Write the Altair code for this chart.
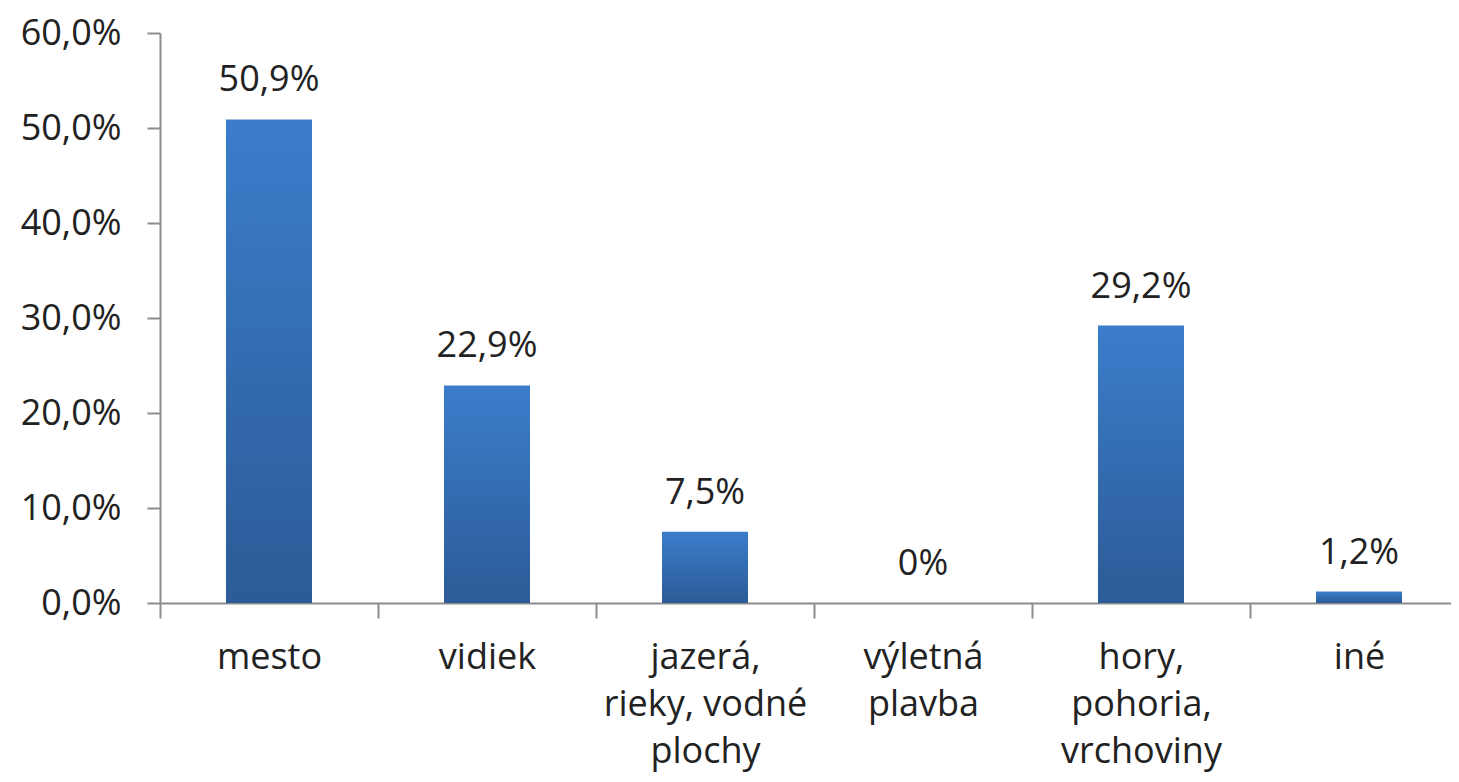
import altair as alt
import pandas as pd

categories = ["mesto", "vidiek", "jazerá,|rieky, vodné|plochy", "výletná|plavba", "hory,|pohoria,|vrchoviny", "iné"]
values = [50.9, 22.9, 7.5, 0.0, 29.2, 1.2]

df = pd.DataFrame({"cat": categories, "v": values})

FONT = "Open Sans"
FS = 36

x_enc = alt.X(
    "cat:N",
    sort=categories,
    scale=alt.Scale(paddingInner=0, paddingOuter=0, range=[0, 1308]),
    axis=alt.Axis(
        title=None,
        labelAngle=0,
        labelExpr="split(datum.label, '|')",
        labelFont=FONT,
        labelFontSize=FS,
        labelColor="#222222",
        labelLineHeight=47,
        labelPadding=22,
        labelBaseline="top",
        labelLimit=0,
        tickBand="extent",
        tickSize=15,
        tickColor="#8c8c8c",
        tickWidth=2,
        domainColor="#8c8c8c",
        domainWidth=2,
        grid=False,
    ),
)

y_enc = alt.Y(
    "v:Q",
    scale=alt.Scale(domain=[0, 60], nice=False),
    axis=alt.Axis(
        title=None,
        values=[0, 10, 20, 30, 40, 50, 60],
        labelExpr="replace(format(datum.value, '.1f'), '.', ',') + '%'",
        labelFont=FONT,
        labelFontSize=FS,
        labelColor="#222222",
        labelPadding=26,
        tickSize=13,
        tickColor="#8c8c8c",
        tickWidth=2,
        domainColor="#8c8c8c",
        domainWidth=2,
        grid=False,
    ),
)

base = alt.Chart(df)

bars = base.mark_bar(
    size=86,
    color=alt.Gradient(
        gradient="linear",
        stops=[
            alt.GradientStop(color="#3b7dcb", offset=0),
            alt.GradientStop(color="#2c5b97", offset=1),
        ],
        x1=0, x2=0, y1=0, y2=1,
    ),
).encode(x=x_enc, y=y_enc)

labels = base.transform_calculate(
    lab="datum.v == 0 ? '0%' : replace(format(datum.v, '.1f'), '.', ',') + '%'"
).mark_text(
    font=FONT, fontSize=FS, color="#222222", baseline="bottom", dy=-20
).encode(
    x=alt.X("cat:N", sort=categories),
    y=alt.Y("v:Q"),
    text="lab:N",
)

chart = (
    alt.layer(bars, labels)
    .properties(
        width=1291,
        height=570,
        background="white",
        autosize=alt.AutoSizeParams(type="none"),
        padding={"left": 152, "top": 25, "right": 0, "bottom": 170},
    )
    .configure_view(stroke=None, strokeWidth=0)
    .configure_axis(grid=False)
)

chart.save("out.html", embed_options={"renderer": "svg", "actions": False})
